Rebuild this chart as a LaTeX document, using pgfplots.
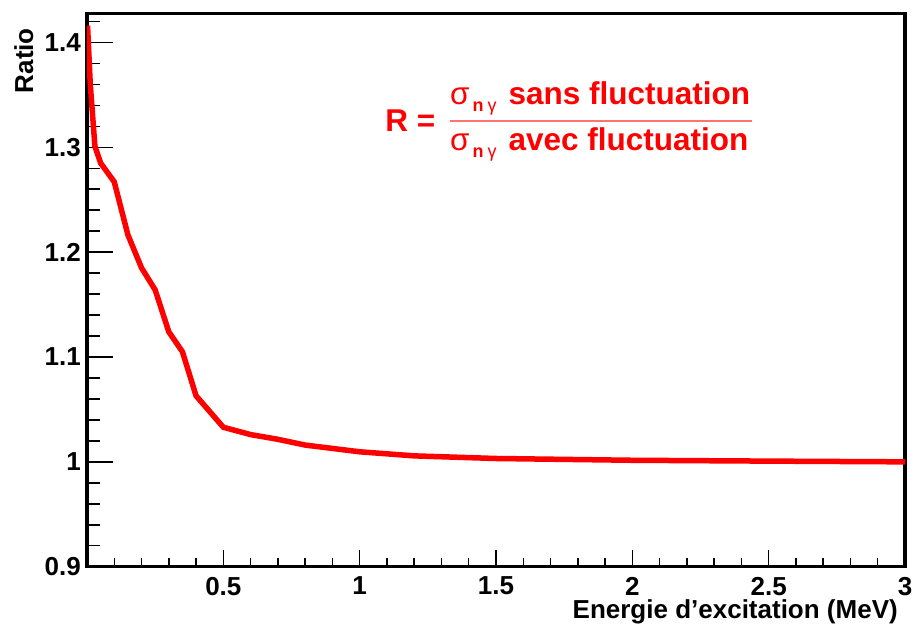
\documentclass[border=0pt]{standalone}
\usepackage{fontspec}
\setmainfont{Liberation Sans}
\usepackage{pgfplots}
\pgfplotsset{compat=1.18}

% ratio R as a function of excitation energy (MeV)
\pgfplotstableread{
E      R
0.002  1.416
0.012  1.360
0.029  1.301
0.05   1.285
0.1    1.267
0.15   1.2165
0.2    1.185
0.25   1.164
0.3    1.124
0.35   1.105
0.4    1.063
0.5    1.033
0.6    1.026
0.7    1.0215
0.8    1.016
0.9    1.0128
1.0    1.0096
1.2    1.0057
1.5    1.0032
2.0    1.0015
2.5    1.0007
3.0    1.0000
}\ratiodata

\newcommand\bigfont{\fontsize{26bp}{31bp}\selectfont\bfseries}
\newcommand\fracfont{\fontsize{31.5bp}{38bp}\selectfont\bfseries}

\begin{document}
\begin{tikzpicture}
\begin{axis}[
    at={(0,0)}, anchor=south west,
    width=818bp, height=553.4bp,
    scale only axis,
    xmin=0, xmax=3,
    ymin=0.9, ymax=1.4278,
    xtick={0,0.5,1,1.5,2,2.5,3},
    xticklabels={,0.5,1,1.5,2,2.5,3},
    minor xtick={0.1,0.2,0.3,0.4,0.6,0.7,0.8,0.9,1.1,1.2,1.3,1.4,1.6,1.7,1.8,1.9,2.1,2.2,2.3,2.4,2.6,2.7,2.8,2.9},
    ytick={0.9,1,1.1,1.2,1.3,1.4},
    yticklabels={0.9,1,1.1,1.2,1.3,1.4},
    minor ytick={0.92,0.94,0.96,0.98,1.02,1.04,1.06,1.08,1.12,1.14,1.16,1.18,1.22,1.24,1.26,1.28,1.32,1.34,1.36,1.38,1.42},
    tick pos=left,
    tick align=inside,
    tick style={black, line width=1.5bp},
    major x tick style={/pgfplots/major tick length=17bp},
    minor x tick style={/pgfplots/minor tick length=8.5bp},
    major y tick style={/pgfplots/major tick length=26bp},
    minor y tick style={/pgfplots/minor tick length=13bp},
    axis line style={line width=3.5bp},
    /pgf/number format/assume math mode=true,
    tick label style={font=\bigfont, inner sep=0pt},
    yticklabel style={anchor=east, xshift=-6bp},
    xticklabel style={anchor=north, yshift=-10bp},
    xlabel={Energie d’excitation (MeV)},
    xlabel style={font=\bigfont, inner sep=0pt, at={(axis description cs:0.9914,-0.0932)}, anchor=base east},
    ylabel={Ratio},
    ylabel style={font=\bigfont, inner sep=0pt, at={(axis description cs:-0.066,0.9734)}, anchor=base east},
]
\addplot[red, line width=5.5bp] table[x=E, y=R] {\ratiodata};

\node[red, inner sep=0pt, anchor=base west, font=\fracfont] at (axis cs:1.0936,1.3154) {R =};
\node[red, inner sep=0pt, anchor=base west, font=\fracfont] at (axis cs:1.3313,1.3410)
  {\makebox[58.3bp][l]{{\mdseries σ}\hspace{3bp}\raisebox{-7bp}{\fontsize{18bp}{21bp}\selectfont n\hspace{4bp}{\mdseries γ}}}sans fluctuation};
\node[red, inner sep=0pt, anchor=base west, font=\fracfont] at (axis cs:1.3313,1.2973)
  {\makebox[58.3bp][l]{{\mdseries σ}\hspace{3bp}\raisebox{-7bp}{\fontsize{18bp}{21bp}\selectfont n\hspace{4bp}{\mdseries γ}}}avec fluctuation};
\draw[red!55, line width=1.3bp] (axis cs:1.3313,1.3251) -- (axis cs:2.4389,1.3251);
\end{axis}
\pgfresetboundingbox
\path[use as bounding box] (-87bp,-59.3bp) rectangle (829bp,566.7bp);
\end{tikzpicture}
\end{document}
